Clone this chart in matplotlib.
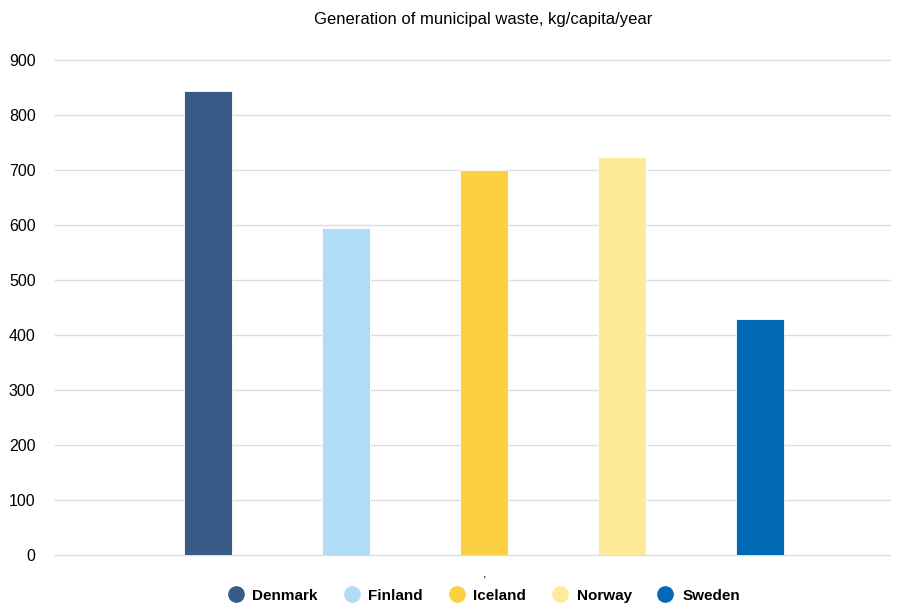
import numpy as np
import matplotlib.pyplot as plt
from matplotlib.lines import Line2D

plt.rcParams['font.family'] = ['Liberation Sans', 'DejaVu Sans']

# kg per capita per year
countries = ['Denmark', 'Finland', 'Iceland', 'Norway', 'Sweden']
waste = [843, 594, 700, 724, 430]
colors = ['#375a87', '#b0dcf5', '#fbd043', '#feea98', '#006ab4']
yticks = [0, 100, 200, 300, 400, 500, 600, 700, 800, 900]

fig = plt.figure(figsize=(9.05, 6.06), dpi=100)
ax = fig.add_axes([55 / 905, 51 / 606, 835 / 905, 495 / 606])

x = np.arange(len(countries))
ax.bar(x, waste, width=48 / 138, color=colors, edgecolor='white', linewidth=0.6, zorder=3)

ax.set_xlim(-1.109, 4.94)
ax.set_ylim(0, 900)
ax.set_yticks(yticks)
ax.set_yticklabels([str(v) for v in yticks], fontsize=11.5)
ax.yaxis.grid(True, color='#dddddd', linewidth=1, zorder=0)
for gl in ax.get_ygridlines():
    gl.set_clip_on(False)
ax.tick_params(axis='y', length=0, pad=14)
ax.set_xticks([2])
ax.set_xticklabels([','], fontsize=9)
ax.tick_params(axis='x', length=0, pad=10)
for s in ax.spines.values():
    s.set_visible(False)

fig.text(0.534, 0.968, 'Generation of municipal waste, kg/capita/year', ha='center', va='center', fontsize=12)

handles = [Line2D([], [], marker='o', linestyle='', markersize=11, markerfacecolor=c, markeredgecolor=c)
           for c in colors]
fig.legend(handles, countries, loc='center', bbox_to_anchor=(0.534, 0.017), ncol=5, frameon=False,
           prop={'weight': 'bold', 'size': 11}, handletextpad=0.5, columnspacing=1.6, handlelength=1.2)

fig.savefig('out.png', dpi=100)
